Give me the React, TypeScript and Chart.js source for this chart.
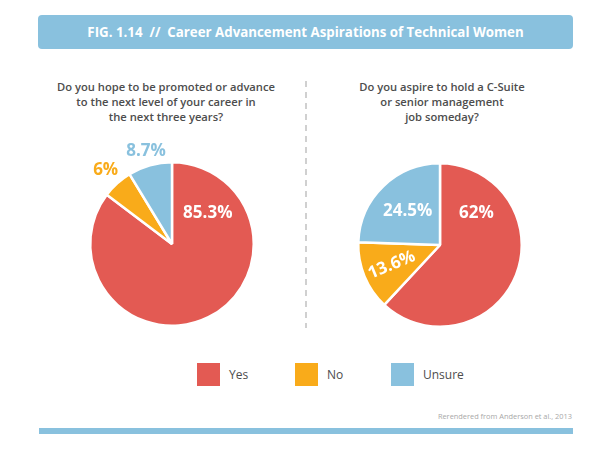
import React, { useEffect, useRef } from "react";
import { Chart, registerables } from "chart.js";

Chart.register(...registerables);

// ---- Data ----
const categories = ["Yes", "No", "Unsure"];
const promotedValues = [85.3, 6, 8.7];
const csuiteValues = [62, 13.6, 24.5];
const sliceColors = ["#e35a53", "#f9ab1a", "#89c1de"];
const titleText = "FIG. 1.14  //  Career Advancement Aspirations of Technical Women";
const questionPromoted = [
  "Do you hope to be promoted or advance",
  "to the next level of your career in",
  "the next three years?",
];
const questionCsuite = ["Do you aspire to hold a C-Suite", "or senior management", "job someday?"];
const sourceText = "Rerendered from Anderson et al., 2013";

const FONT = "'Open Sans', 'Noto Sans', sans-serif";
const DEG = Math.PI / 180;

type Place = { angle?: number; r: number; color: string; rotate?: boolean };

const promotedPlaces: Place[] = [
  { angle: -41 * DEG, r: 0.58, color: "#ffffff" },
  { r: 1.21, color: sliceColors[1] },
  { r: 1.18, color: sliceColors[2] },
];
const csuitePlaces: Place[] = [
  { angle: -41 * DEG, r: 0.59, color: "#ffffff" },
  { r: 0.64, color: "#ffffff", rotate: true },
  { r: 0.57, color: "#ffffff" },
];

const labelPlugin = {
  id: "sliceLabels",
  afterDatasetsDraw(chart: any, _args: any, opts: any) {
    const places: Place[] = opts.places || [];
    const meta = chart.getDatasetMeta(0);
    const data = chart.data.datasets[0].data as number[];
    const ctx = chart.ctx;
    meta.data.forEach((arc: any, i: number) => {
      const p = places[i];
      if (!p) return;
      const { x, y, startAngle, endAngle, outerRadius } = arc.getProps(
        ["x", "y", "startAngle", "endAngle", "outerRadius"],
        true
      );
      const mid = (startAngle + endAngle) / 2;
      const a = p.angle !== undefined ? p.angle : mid;
      const lx = x + Math.cos(a) * outerRadius * p.r;
      const ly = y + Math.sin(a) * outerRadius * p.r;
      ctx.save();
      ctx.translate(lx, ly);
      if (p.rotate) ctx.rotate(mid - Math.PI);
      ctx.font = `bold 17px ${FONT}`;
      ctx.fillStyle = p.color;
      ctx.textAlign = "center";
      ctx.textBaseline = "middle";
      ctx.fillText(`${data[i]}%`, 0, 0);
      ctx.restore();
    });
  },
};

function Pie({ values, places, cx, cy }: { values: number[]; places: Place[]; cx: number; cy: number }) {
  const ref = useRef<HTMLCanvasElement | null>(null);
  useEffect(() => {
    if (!ref.current) return;
    const chart = new Chart(ref.current, {
      type: "pie",
      data: {
        labels: categories,
        datasets: [
          {
            data: values,
            backgroundColor: sliceColors,
            borderColor: "#ffffff",
            borderWidth: 2.5,
          },
        ],
      },
      options: {
        responsive: false,
        animation: false,
        layout: { padding: 27 },
        plugins: {
          legend: { display: false },
          tooltip: { enabled: false },
          sliceLabels: { places },
        } as any,
      },
      plugins: [labelPlugin],
    });
    return () => chart.destroy();
  }, []);
  const size = 220;
  return (
    <canvas
      ref={ref}
      width={size}
      height={size}
      style={{ position: "absolute", left: cx - size / 2, top: cy - size / 2, width: size, height: size }}
    />
  );
}

function Question({ lines, cx }: { lines: string[]; cx: number }) {
  return (
    <div
      style={{
        position: "absolute",
        left: cx - 150,
        top: 79,
        width: 300,
        textAlign: "center",
        fontFamily: FONT,
        fontWeight: 600,
        fontSize: 11.2,
        lineHeight: "15px",
        color: "#4d4d4d",
      }}
    >
      {lines.map((l, i) => (
        <div key={i}>{l}</div>
      ))}
    </div>
  );
}

export default function App() {
  const legendX = [197, 295, 391];
  return (
    <div
      style={{
        position: "absolute",
        left: 0,
        top: 0,
        width: 615,
        height: 454,
        background: "#ffffff",
        overflow: "hidden",
        fontFamily: FONT,
      }}
    >
      <div
        style={{
          position: "absolute",
          left: 38,
          top: 15,
          width: 535,
          height: 34,
          background: "#89c1de",
          borderRadius: 4,
          color: "#ffffff",
          fontWeight: 700,
          fontSize: 13.3,
          lineHeight: "34px",
          textAlign: "center",
          whiteSpace: "pre",
        }}
      >
        {titleText}
      </div>
      <Question lines={questionPromoted} cx={166} />
      <Question lines={questionCsuite} cx={442} />
      <div
        style={{
          position: "absolute",
          left: 305,
          top: 81,
          width: 2,
          height: 247,
          backgroundImage: "linear-gradient(to bottom, #d0d0d0 0px, #d0d0d0 6px, transparent 6px, transparent 11px)",
          backgroundSize: "2px 11px",
        }}
      />
      <Pie values={promotedValues} places={promotedPlaces} cx={172} cy={244} />
      <Pie values={csuiteValues} places={csuitePlaces} cx={440} cy={245} />
      {categories.map((c, i) => (
        <div key={c}>
          <div
            style={{
              position: "absolute",
              left: legendX[i],
              top: 363,
              width: 23,
              height: 23,
              background: sliceColors[i],
            }}
          />
          <div
            style={{
              position: "absolute",
              left: legendX[i] + 32,
              top: 366,
              fontSize: 12,
              lineHeight: "17px",
              color: "#4d4d4d",
              fontWeight: 500,
            }}
          >
            {c}
          </div>
        </div>
      ))}
      <div
        style={{
          position: "absolute",
          right: 615 - 572,
          top: 410,
          fontSize: 7.4,
          lineHeight: "12px",
          color: "#a8a8a8",
        }}
      >
        {sourceText}
      </div>
      <div
        style={{
          position: "absolute",
          left: 39,
          top: 428,
          width: 534,
          height: 6,
          background: "#89c1de",
        }}
      />
    </div>
  );
}
